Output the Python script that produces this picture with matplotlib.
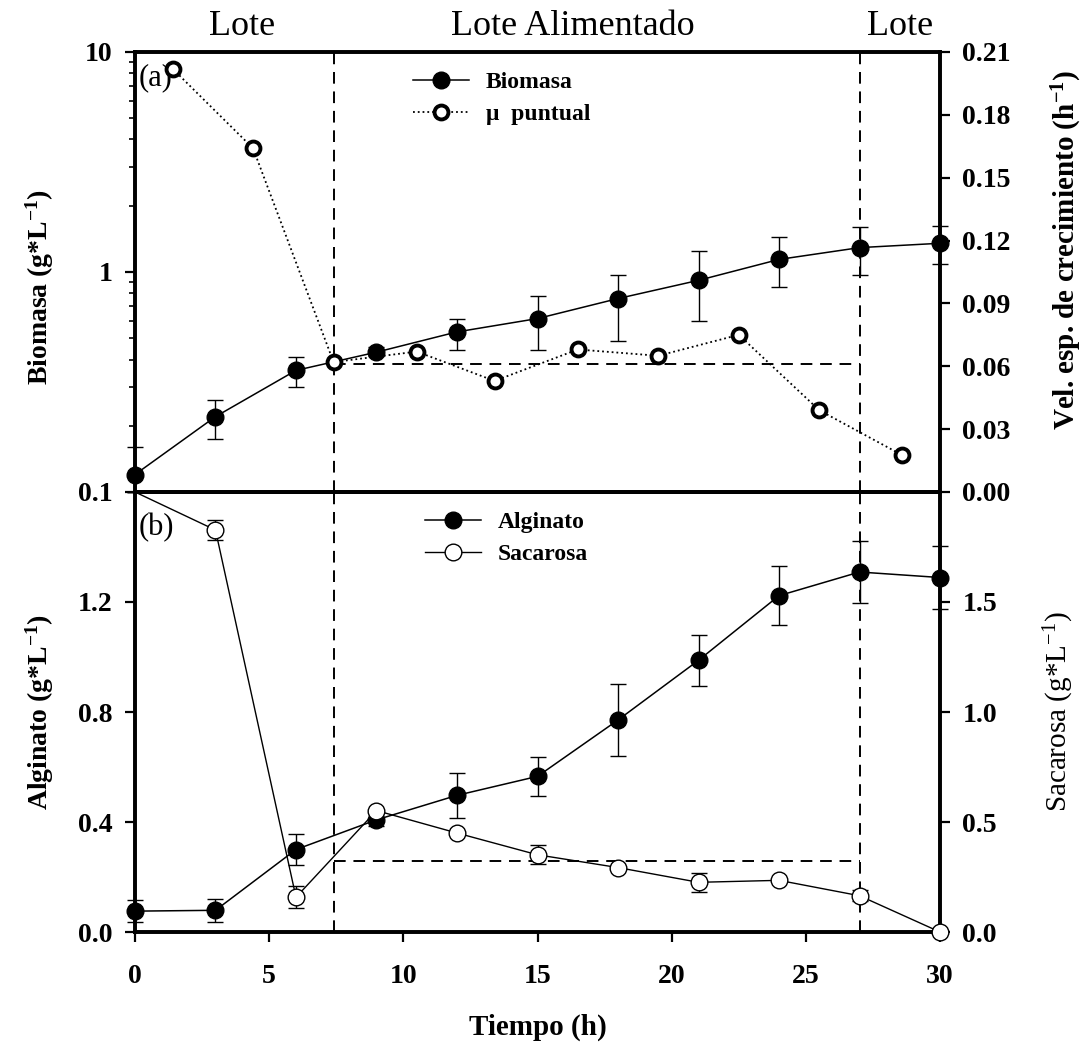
"""Biomasa, velocidad especifica, alginato y sacarosa en cultivo lote / lote alimentado."""

import matplotlib
matplotlib.use('Agg')
import matplotlib.pyplot as plt

plt.rcParams['font.family'] = ['Liberation Serif', 'DejaVu Serif']
plt.rcParams['mathtext.default'] = 'regular'

# Panel (a): biomasa (eje log) y mu puntual (eje derecho)
t_bio = [0, 3, 6, 9, 12, 15, 18, 21, 24, 27, 30]
biomasa = [0.12, 0.22, 0.357, 0.432, 0.534, 0.614, 0.757, 0.916, 1.14, 1.29, 1.35]
bio_err_lo = [0.02, 0.045, 0.057, 0.017, 0.09, 0.17, 0.27, 0.32, 0.29, 0.32, 0.26]
bio_err_hi = [0.04, 0.041, 0.054, 0.024, 0.076, 0.166, 0.21, 0.33, 0.30, 0.31, 0.26]

t_mu = [1.4, 4.4, 7.4, 10.5, 13.4, 16.5, 19.5, 22.5, 25.5, 28.6]
mu_puntual = [0.202, 0.164, 0.062, 0.067, 0.053, 0.068, 0.065, 0.075, 0.039, 0.0175]
mu_promedio = 0.061

# Panel (b): alginato (izq) y sacarosa (der)
t_b = [0, 3, 6, 9, 12, 15, 18, 21, 24, 27, 30]
alginato = [0.076, 0.079, 0.30, 0.408, 0.497, 0.566, 0.771, 0.988, 1.223, 1.309, 1.289]
alg_err = [0.04, 0.041, 0.055, 0.024, 0.083, 0.07, 0.13, 0.092, 0.108, 0.114, 0.115]
sacarosa = [2.0, 1.827, 0.158, 0.552, 0.45, 0.351, 0.293, 0.226, 0.235, 0.165, 0.0]
sac_err = [0, 0.045, 0.05, 0, 0, 0.043, 0, 0.043, 0, 0.025, 0]
sac_promedio = 0.325

# Cambios de fase
t_fases = [7.4, 27]
fases = ['Lote', 'Lote Alimentado', 'Lote']
fases_x = [4.0, 16.3, 28.5]

TICK_FS = 20
LABEL_FS = 20
LEG_FS = 17


def style_axis(ax):
    for sp in ax.spines.values():
        sp.set_linewidth(2.6)
    ax.tick_params(direction='out', length=7, width=1.6, labelsize=TICK_FS, pad=9)
    ax.tick_params(which='minor', direction='out', length=4.5, width=1.2)
    ax.tick_params(axis='x', pad=16)
    for lab in ax.get_xticklabels() + ax.get_yticklabels():
        lab.set_fontweight('bold')


def unclip(container):
    """Let the markers and error bars of an errorbar container overlap the spines."""
    container.lines[0].set_clip_on(False)
    for art in list(container.lines[1]) + list(container.lines[2]):
        art.set_clip_on(False)


fig = plt.figure(figsize=(10.85, 10.49), dpi=100)
left, width, height = 0.1244, 0.742, 0.4195
ax_b = fig.add_axes([left, 0.1115, width, height])
ax_a = fig.add_axes([left, 0.531, width, height])
ax_a2 = ax_a.twinx()
ax_b2 = ax_b.twinx()

dash = dict(color='black', linestyle=(0, (6, 4)), linewidth=1.4)
leg_kw = dict(loc='upper left', frameon=False, prop={'weight': 'bold', 'size': LEG_FS},
              handlelength=2.4, handletextpad=0.7, labelspacing=0.45, borderpad=0,
              borderaxespad=0)

# ---- panel (a)
ax_a.set_yscale('log')
ax_a.set_xlim(0, 30)
ax_a.set_ylim(0.1, 10)
ax_a2.set_ylim(0, 0.21)
ax_a2.set_yticks([0.0, 0.03, 0.06, 0.09, 0.12, 0.15, 0.18, 0.21])
ax_a2.set_yticklabels(['0.00', '0.03', '0.06', '0.09', '0.12', '0.15', '0.18', '0.21'])
ax_a.set_yticks([0.1, 1, 10])
ax_a.set_yticklabels(['0.1', '1', '10'])
ax_a.tick_params(axis='x', bottom=False, labelbottom=False)

for tf in t_fases:
    ax_a.axvline(tf, **dash)
ax_a2.hlines(mu_promedio, t_fases[0], t_fases[1], **dash)

h_bio = ax_a.errorbar(t_bio, biomasa, yerr=[bio_err_lo, bio_err_hi], fmt='-o', color='black',
                      lw=1.1, ms=12, elinewidth=1.0, capsize=6, capthick=1.0, zorder=5)
unclip(h_bio)
h_mu, = ax_a2.plot(t_mu, mu_puntual, linestyle=':', color='black', lw=1.3, marker='o', ms=10,
                   mfc='white', mec='black', mew=2.8, clip_on=False, zorder=6)

ax_a.set_ylabel('Biomasa (g*L$^{-1}$)', fontsize=LABEL_FS, fontweight='bold', labelpad=16)
ax_a.yaxis.label.set_y(0.465)
ax_a2.set_ylabel('Vel. esp. de crecimiento (h$^{-1}$)', fontsize=21, fontweight='bold',
                 labelpad=28)
ax_a2.yaxis.label.set_y(0.55)
ax_a.text(0.005, 0.941, '(a)', transform=ax_a.transAxes, fontsize=22, va='center')
ax_a.legend([h_bio[0], h_mu], ['Biomasa', '\u03bc  puntual'], bbox_to_anchor=(0.345, 0.955),
            **leg_kw)

# ---- panel (b)
ax_b.set_xlim(0, 30)
ax_b.set_ylim(0, 1.6)
ax_b.set_yticks([0.0, 0.4, 0.8, 1.2])
ax_b.set_yticklabels(['0.0', '0.4', '0.8', '1.2'])
ax_b.set_xticks([0, 5, 10, 15, 20, 25, 30])
ax_b2.set_ylim(0, 2.0)
ax_b2.set_yticks([0.0, 0.5, 1.0, 1.5])
ax_b2.set_yticklabels(['0.0', '0.5', '1.0', '1.5'])

for tf in t_fases:
    ax_b.axvline(tf, **dash)
ax_b2.hlines(sac_promedio, t_fases[0], t_fases[1], **dash)

h_alg = ax_b.errorbar(t_b, alginato, yerr=alg_err, fmt='-o', color='black', lw=1.1, ms=12,
                      elinewidth=1.0, capsize=6, capthick=1.0, zorder=5)
unclip(h_alg)
h_sac = ax_b2.errorbar(t_b, sacarosa, yerr=sac_err, fmt='-o', color='black', lw=1.0, ms=12,
                       mfc='white', mec='black', mew=1.0, elinewidth=1.0, capsize=6,
                       capthick=1.0, markevery=list(range(1, len(t_b))), zorder=6)
unclip(h_sac)

ax_b.set_ylabel('Alginato (g*L$^{-1}$)', fontsize=LABEL_FS, fontweight='bold', labelpad=16)
ax_b2.set_ylabel('Sacarosa (g*L$^{-1}$)', fontsize=21, labelpad=32)
ax_b.set_xlabel('Tiempo (h)', fontsize=21, fontweight='bold', labelpad=18)
ax_b.text(0.005, 0.918, '(b)', transform=ax_b.transAxes, fontsize=22, va='center')
ax_b.legend([h_alg[0], h_sac[0]], ['Alginato', 'Sacarosa'], bbox_to_anchor=(0.36, 0.955),
            **leg_kw)

for ax in (ax_a, ax_a2, ax_b, ax_b2):
    style_axis(ax)

# Fases arriba del grafico
for nombre, xf in zip(fases, fases_x):
    ax_a.text(xf, 1.0386, nombre, transform=ax_a.get_xaxis_transform(), ha='center',
              va='baseline', fontsize=26)

fig.savefig('out.png', dpi=100)
